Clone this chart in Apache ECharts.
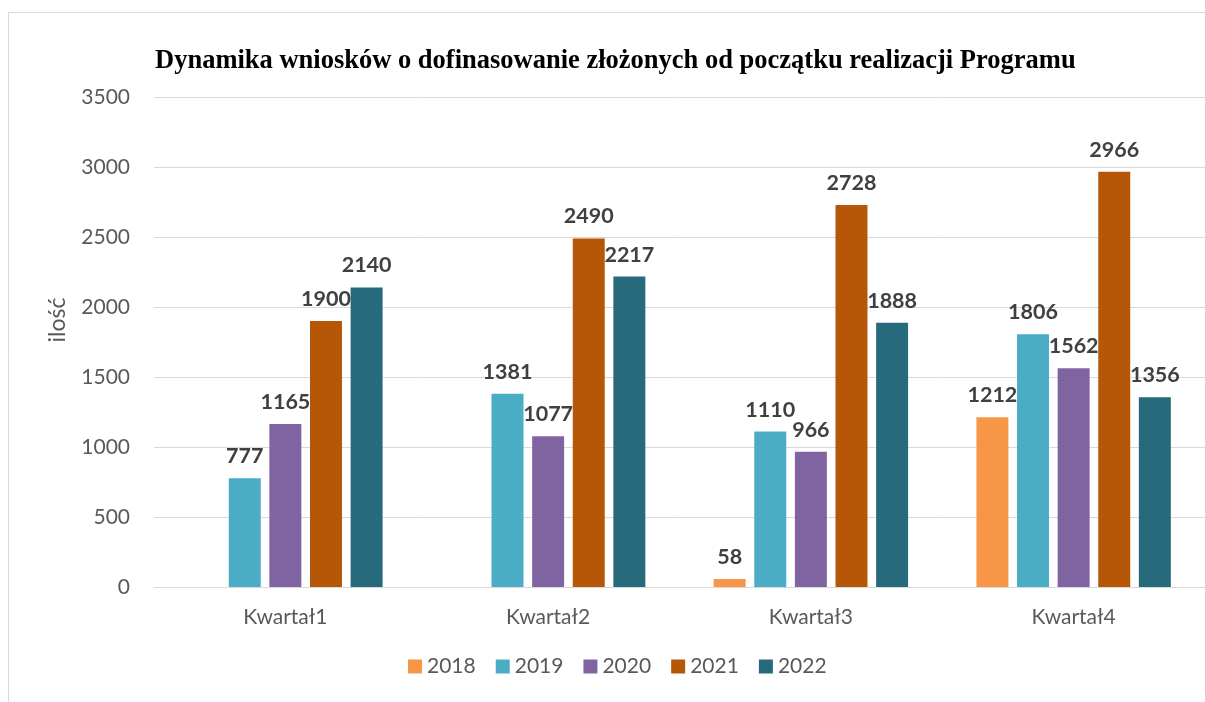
<!DOCTYPE html>
<html>
<head>
<meta charset="utf-8">
<script src="https://cdn.jsdelivr.net/npm/echarts@6/dist/echarts.min.js"></script>
<style>
  html, body { margin: 0; padding: 0; background: #fff; }
  #chart { width: 1205px; height: 702px; }
</style>
</head>
<body>
<div id="chart"></div>
<script>
// dane wykresu
var kwartaly = ['Kwartał1', 'Kwartał2', 'Kwartał3', 'Kwartał4'];
var lata = ['2018', '2019', '2020', '2021', '2022'];
var v2018 = [null, null, 58, 1212];
var v2019 = [777, 1381, 1110, 1806];
var v2020 = [1165, 1077, 966, 1562];
var v2021 = [1900, 2490, 2728, 2966];
var v2022 = [2140, 2217, 1888, 1356];
var yTicks = [0, 500, 1000, 1500, 2000, 2500, 3000, 3500];

var kolory = ['#F79646', '#4BACC6', '#8064A2', '#B65708', '#276A7C'];
var wartosci = [v2018, v2019, v2020, v2021, v2022];

var chart = echarts.init(document.getElementById('chart'));

var series = lata.map(function (rok, i) {
    return {
        name: rok,
        type: 'bar',
        data: wartosci[i],
        barGap: '27%',
        barCategoryGap: '26%',
        itemStyle: { color: kolory[i] },
        label: {
            show: true,
            position: 'top',
            distance: 11,
            fontFamily: 'Lato',
            fontWeight: 'bold',
            fontSize: 21.5,
            color: '#404040'
        }
    };
});

var option = {
    animation: false,
    backgroundColor: '#fff',
    color: kolory,
    title: {
        text: 'Dynamika wniosków o dofinasowanie złożonych od początku realizacji Programu',
        left: 150,
        top: 43,
        textStyle: {
            fontFamily: 'Liberation Serif',
            fontWeight: 'bold',
            fontSize: 26.5,
            color: '#000'
        }
    },
    legend: {
        bottom: 20,
        left: 403,
        itemWidth: 14,
        itemHeight: 14,
        itemGap: 20,
        icon: 'rect',
        textStyle: { fontFamily: 'Lato', fontSize: 21, color: '#595959' },
        data: lata
    },
    grid: { left: 154, right: 0, top: 97, bottom: 115 },
    xAxis: {
        type: 'category',
        data: kwartaly,
        axisLine: { lineStyle: { color: '#d9d9d9' } },
        axisTick: { show: false },
        axisLabel: { fontFamily: 'Lato', fontSize: 21, color: '#595959', margin: 20 }
    },
    yAxis: {
        type: 'value',
        min: yTicks[0],
        max: yTicks[yTicks.length - 1],
        interval: 500,
        axisLine: { show: false },
        axisTick: { show: false },
        splitLine: { lineStyle: { color: '#d9d9d9' } },
        axisLabel: {
            fontFamily: 'Lato', fontSize: 21, color: '#595959', margin: 24,
            formatter: function (v) { return String(v); }
        }
    },
    graphic: [
        {
            type: 'rect',
            shape: { x: 8.5, y: 12.5, width: 1220, height: 720 },
            style: { fill: 'none', stroke: '#d9d9d9', lineWidth: 1 },
            silent: true
        },
        {
            type: 'text',
            x: 58,
            y: 320,
            rotation: Math.PI / 2,
            style: {
                text: 'ilość',
                fontFamily: 'Lato',
                fontSize: 23,
                fill: '#595959',
                align: 'center',
                verticalAlign: 'middle'
            }
        }
    ],
    series: series
};

chart.setOption(option);
</script>
</body>
</html>
